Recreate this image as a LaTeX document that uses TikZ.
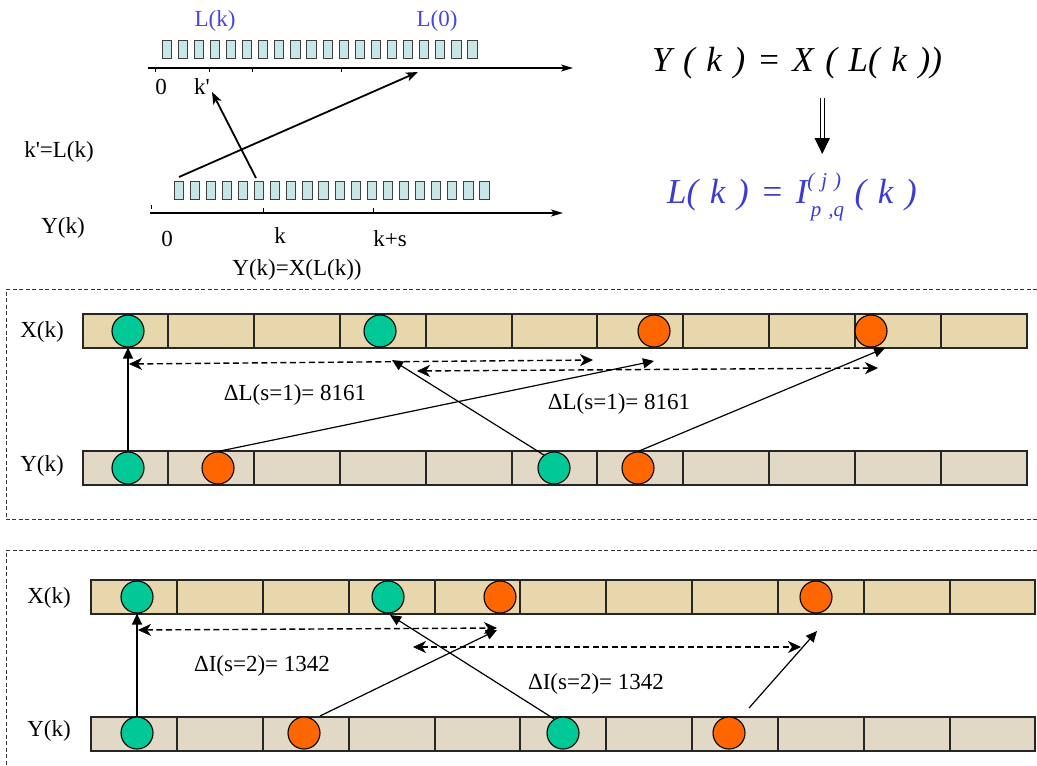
\documentclass[tikz,border=0pt]{standalone}
\usepackage{fontspec}
\setmainfont{Liberation Serif}
\usetikzlibrary{arrows.meta}
\definecolor{dotgreen}{RGB}{0,200,150}
\definecolor{dotorange}{RGB}{255,102,0}
\definecolor{xcell}{RGB}{232,214,172}
\definecolor{ycell}{RGB}{226,216,198}
\definecolor{tickbox}{RGB}{200,230,230}
\definecolor{lblue}{RGB}{70,70,230}
\definecolor{fblue}{RGB}{60,60,210}
\newcommand{\subfnt}{\fontsize{21}{23}\selectfont}
\begin{document}
\begin{tikzpicture}[x=1pt,y=-1pt,
 lbl/.style={font=\fontsize{23}{26}\selectfont, inner sep=0pt},
 bluelbl/.style={lbl, text=lblue},
 dot/.style={circle, draw=black, line width=1.1pt, minimum size=32pt, inner sep=0pt},
 gdot/.style={dot, fill=dotgreen},
 odot/.style={dot, fill=dotorange},
 solidarr/.style={line width=1.2pt, -{Triangle[length=11pt,width=10pt]}},
 dtip/.style={},
 dasharr/.style={line width=1.4pt, dash pattern=on 6pt off 3.5pt, {Stealth[length=13pt,width=12pt,inset=4pt,line width=0.5pt]}-{Stealth[length=13pt,width=12pt,inset=4pt,line width=0.5pt]}},
 framestyle/.style={line width=0.7pt, dash pattern=on 4pt off 2.5pt, draw=black!80},
 cell/.style={draw=black!85, line width=1.5pt},
 tbox/.style={draw=black!75, line width=1pt, fill=tickbox},
 axis/.style={line width=1.4pt, -{Stealth[length=12pt,width=7pt,inset=3pt]}},
 bigarr/.style={line width=1.8pt, -{Stealth[length=12pt,width=9pt,inset=3pt]}},
 formula/.style={font=\fontsize{35}{38}\selectfont\itshape, inner sep=0pt}
]
\useasboundingbox (0,0) rectangle (1037,766);

% ---------------- top left ----------------
\foreach \i in {0,...,19} {
  \draw[tbox] (162+\i*16.1,40) rectangle ++(9.2,18);
  \draw[tbox] (174+\i*16.1,181) rectangle ++(9.2,18);
}
\coordinate (ta0) at (148,68);
\coordinate (ta1) at (573,68);
\draw[axis] (ta0) -- (ta1);
\foreach \x in {155,209,252,341} \draw[line width=1pt] (\x,68) -- (\x,72);
\coordinate (ba0) at (150,213);
\coordinate (ba1) at (563,213);
\draw[axis] (ba0) -- (ba1);
\foreach \x in {263,373} \draw[line width=1pt] (\x,213) -- (\x,208);
\draw[line width=1pt] (151,205) -- (151,209);

\node[bluelbl] (lk) at (215,21) {L(k)};
\node[bluelbl] (l0) at (437,21) {L(0)};
\node[lbl] (t0) at (161,87) {0};
\node[lbl] (tk) at (202,87) {k\textquotesingle};
\node[lbl] (kl) at (59,152) {k\textquotesingle=L(k)};
\node[lbl] (yk0) at (63,228) {Y(k)};
\node[lbl] (b0) at (167,239) {0};
\node[lbl] (bk) at (280,236) {k};
\node[lbl] (bks) at (390,239) {k+s};
\node[lbl] (yx) at (297,270) {Y(k)=X(L(k))};

\coordinate (a1s) at (179,177);
\coordinate (a1e) at (418,72);
\coordinate (a2s) at (256,178);
\coordinate (a2e) at (212,92);
\draw[bigarr] (a1s) -- (a1e);
\draw[bigarr] (a2s) -- (a2e);

% ---------------- top right formulas ----------------
\node[formula] (f1) at (797,63) {Y\,\,(\,\,k\,\,)\,\,=\,\,X\,\,(\,\,L(\,\,k\,\,))};
\node[formula, text=fblue] (f2) at (792,197) {L(\,\,k\,\,)\,\,=\,\,I\makebox[0pt][l]{\raisebox{0.45em}{\subfnt(\,\,j\,\,)}}\makebox[1.35em][l]{\raisebox{-0.38em}{\subfnt\,p\,\,,q}}(\,\,k\,\,)};
\draw[line width=0.9pt] (820,98) -- (820,141);
\draw[line width=0.9pt] (824.5,98) -- (824.5,141);
\fill (814.5,138) -- (830,138) -- (822.2,154) -- cycle;

% ---------------- middle panel ----------------
\draw[framestyle] (1037,289) -- (6,289) -- (6,519) -- (1037,519);
\fill[xcell] (83,314) rectangle (1027,348);
\fill[ycell] (83,451) rectangle (1027,485);
\draw[cell] (83,314) rectangle (1027,348);
\draw[cell] (83,451) rectangle (1027,485);
\foreach \x in {168,254,340,426,512,597,683,769,855,941} {
  \draw[cell] (\x,314) -- (\x,348);
  \draw[cell] (\x,451) -- (\x,485);
}
\node[lbl] (mx) at (42,332) {X(k)};
\node[lbl] (my) at (42,466) {Y(k)};
\node[gdot] (mxg1) at (128,331) {};
\node[gdot] (mxg2) at (380,331) {};
\node[odot] (mxo1) at (654,331) {};
\node[odot] (mxo2) at (871,331) {};
\node[gdot] (myg1) at (128,468) {};
\node[odot] (myo1) at (218,468) {};
\node[gdot] (myg2) at (554,468) {};
\node[odot] (myo2) at (638,468) {};

\coordinate (m2e) at (654,361);
\coordinate (m3e) at (392,360);
\coordinate (m4e) at (885,348);
\draw[solidarr] (myg1.north) -- (mxg1.south);
\draw[solidarr] (myo1.north) -- (m2e);
\draw[solidarr] (myg2.128) -- (m3e);
\draw[solidarr] (myo2.north) -- (m4e);

\coordinate (md1a) at (129,364);
\coordinate (md1b) at (593,360);
\coordinate (md2a) at (417,371);
\coordinate (md2b) at (878,368);
\draw[dasharr] (md1a) -- (md1b);
\draw[dasharr] (md2a) -- (md2b);
\node[lbl] (ml1) at (295,395) {ΔL(s=1)= 8161};
\node[lbl] (ml2) at (619,404) {ΔL(s=1)= 8161};

% ---------------- bottom panel ----------------
\draw[framestyle] (1037,550) -- (6,550) -- (6,766);
\fill[xcell] (91,580) rectangle (1035,614);
\fill[ycell] (91,717) rectangle (1035,751);
\draw[cell] (91,580) rectangle (1035,614);
\draw[cell] (91,717) rectangle (1035,751);
\foreach \x in {177,263,349,435,520,606,692,778,864,950} {
  \draw[cell] (\x,580) -- (\x,614);
  \draw[cell] (\x,717) -- (\x,751);
}
\node[lbl] (bx) at (49,598) {X(k)};
\node[lbl] (by) at (49,731) {Y(k)};
\node[gdot] (bxg1) at (137,597) {};
\node[gdot] (bxg2) at (388,597) {};
\node[odot] (bxo1) at (500,597) {};
\node[odot] (bxo2) at (816,597) {};
\node[gdot] (byg1) at (137,733) {};
\node[odot] (byo1) at (304,733) {};
\node[gdot] (byg2) at (563,733) {};
\node[odot] (byo2) at (729,733) {};

\coordinate (b2s) at (320,716);
\coordinate (b2e) at (497,630);
\coordinate (b3e) at (390,615);
\coordinate (b4s) at (749,708);
\coordinate (b4e) at (817,631);
\draw[solidarr] (byg1.north) -- (bxg1.south);
\draw[solidarr] (b2s) -- (b2e);
\draw[solidarr] (byg2.122) -- (b3e);
\draw[solidarr] (b4s) -- (b4e);

\coordinate (bd1a) at (138,630);
\coordinate (bd1b) at (497,628);
\coordinate (bd2a) at (413,647);
\coordinate (bd2b) at (801,647);
\draw[dasharr] (bd1a) -- (bd1b);
\draw[dasharr] (bd2a) -- (bd2b);
\node[lbl] (bl1) at (262,666) {ΔI(s=2)= 1342};
\node[lbl] (bl2) at (596,684) {ΔI(s=2)= 1342};
\end{tikzpicture}
\end{document}
